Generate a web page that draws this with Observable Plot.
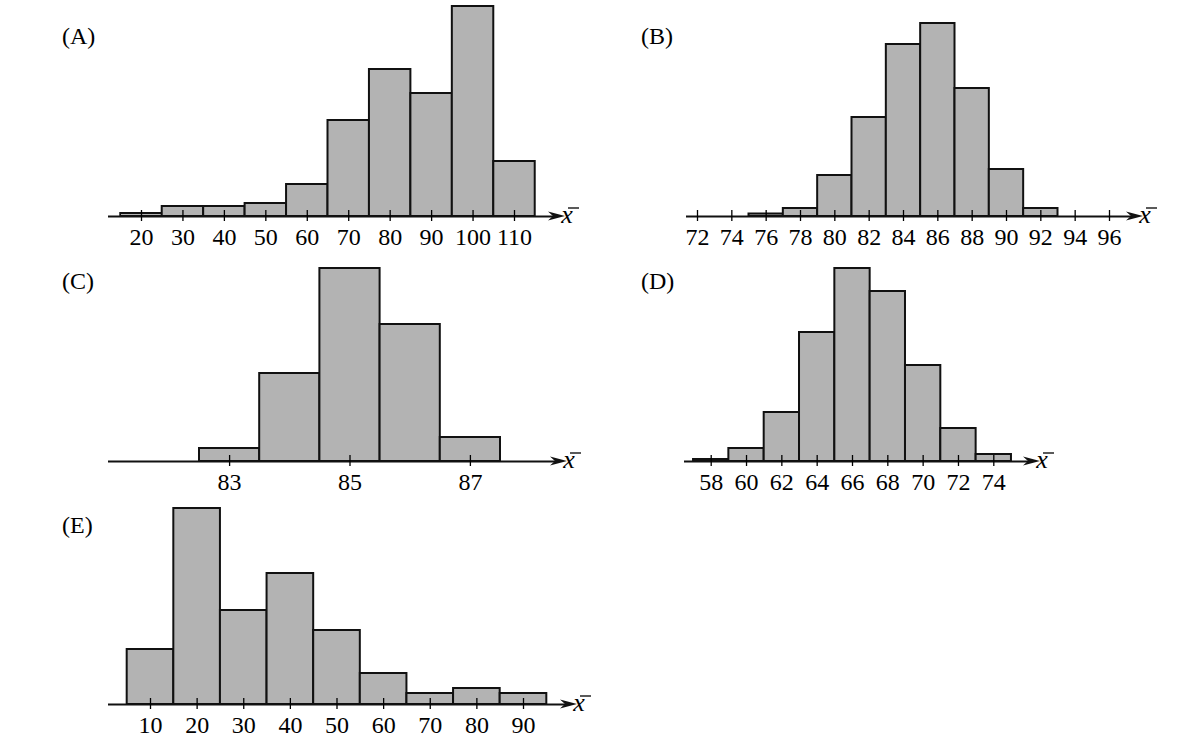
<!DOCTYPE html>
<html><head><meta charset="utf-8">
<script src="https://cdn.jsdelivr.net/npm/d3@7"></script>
<script src="https://cdn.jsdelivr.net/npm/@observablehq/plot@0.6"></script>
<style>
body{margin:0;background:#fff;}
#root{position:relative;width:1189px;height:756px;overflow:hidden;font-family:"Liberation Serif","Times New Roman",serif;color:#000;}
.panel{position:absolute;}
.lab{position:absolute;font-size:24px;line-height:1;white-space:nowrap;}
</style></head><body><div id="root"></div>
<script>
// ---- data (bin edges, bar heights in relative frequency units, tick labels) ----
const aEdges = [15,25,35,45,55,65,75,85,95,105,115];
const aCounts = [3,10,10,13,32,96,147,123,210,55];
const aTicks = [20,30,40,50,60,70,80,90,100,110];

const bEdges = [75,77,79,81,83,85,87,89,91,93];
const bCounts = [2.5,8,41,99,172,193,128,47,8];
const bTicks = [72,74,76,78,80,82,84,86,88,90,92,94,96];

const cEdges = [82.5,83.5,84.5,85.5,86.5,87.5];
const cCounts = [13,88,193,137,24];
const cTicks = [83,85,87];

const dEdges = [57,59,61,63,65,67,69,71,73,75];
const dCounts = [2,13,49,129,193,170,96,33,7];
const dTicks = [58,60,62,64,66,68,70,72,74];

const eEdges = [5,15,25,35,45,55,65,75,85,95];
const eCounts = [55,196,94,131,74,31,11,16,11];
const eTicks = [10,20,30,40,50,60,70,80,90];

const panelNames = ["(A)","(B)","(C)","(D)","(E)"];

// ---- layout (page pixels) ----
const layout = [
  {left:100, top:0,   w:500, h:255, base:216, axisStart:108, tip:565,  dom:[20,110],   rng:[141,514],   labX:62,  labY:44},
  {left:680, top:0,   w:509, h:255, base:216, axisStart:686, tip:1143, dom:[72,96],    rng:[697,1109],  labX:641, labY:44},
  {left:100, top:250, w:500, h:255, base:461, axisStart:108, tip:567,  dom:[82.5,87.5],rng:[199,500],   labX:62,  labY:289},
  {left:680, top:250, w:509, h:255, base:461, axisStart:684, tip:1040, dom:[58,74],    rng:[710.7,993.3],labX:641, labY:289},
  {left:100, top:495, w:500, h:261, base:704, axisStart:108, tip:577,  dom:[10,90],    rng:[150,523],   labX:62,  labY:533}
];
const series = [
  [aEdges,aCounts,aTicks],[bEdges,bCounts,bTicks],[cEdges,cCounts,cTicks],
  [dEdges,dCounts,dTicks],[eEdges,eCounts,eTicks]
];

const root = document.getElementById("root");

function arrowMark(index, scales, values, dims) {
  const tip = dims.width - dims.marginRight;
  const y = scales.y(0);
  const g = d3.create("svg:g");
  g.append("path")
    .attr("d", `M${tip},${y}L${tip-17},${y-4.5}L${tip-12},${y}L${tip-17},${y+4.5}Z`)
    .attr("fill", "#111");
  g.append("text")
    .attr("x", tip + 2).attr("y", y + 7)
    .attr("style", "font: italic 26px 'Liberation Serif', 'Times New Roman', serif; fill: #000;")
    .text("x");
  g.append("line")
    .attr("x1", tip + 3).attr("x2", tip + 14)
    .attr("y1", y - 8).attr("y2", y - 8)
    .attr("stroke", "#000").attr("stroke-width", 1.3);
  return g.node();
}

layout.forEach((L, k) => {
  const [edges, counts, ticks] = series[k];
  const bars = counts.map((c, i) => ({x1: edges[i], x2: edges[i + 1], n: c}));
  const base = L.base - L.top;
  const chart = Plot.plot({
    width: L.w,
    height: L.h,
    marginLeft: L.axisStart - L.left,
    marginRight: L.w - (L.tip - L.left),
    marginTop: 0,
    marginBottom: L.h - (base - 6),
    style: {fontFamily: "'Liberation Serif', 'Times New Roman', serif", fontSize: "24px", color: "#000", background: "transparent", overflow: "visible"},
    x: {domain: L.dom, range: L.rng.map(v => v - L.left)},
    y: {domain: [0, 200], range: [base, base - 200], axis: null},
    marks: [
      Plot.rectY(bars, {x1: "x1", x2: "x2", y1: 0, y2: "n", fill: "#b3b3b3", stroke: "#111", strokeWidth: 2}),
      Plot.ruleY([0], {stroke: "#111", strokeWidth: 2, insetRight: 10}),
      Plot.axisX(ticks, {anchor: "bottom", tickSize: 11, tickPadding: 6, strokeWidth: 1.3, tickFormat: d => String(d), label: null, fontSize: 24, fontFamily: "Liberation Serif"}),
      arrowMark
    ]
  });
  chart.classList.add("panel");
  chart.style.left = L.left + "px";
  chart.style.top = L.top + "px";
  root.appendChild(chart);

  const lab = document.createElement("div");
  lab.className = "lab";
  lab.textContent = panelNames[k];
  lab.style.left = L.labX + "px";
  lab.style.top = (L.labY - 20) + "px";
  root.appendChild(lab);
});
</script>
</body></html>
